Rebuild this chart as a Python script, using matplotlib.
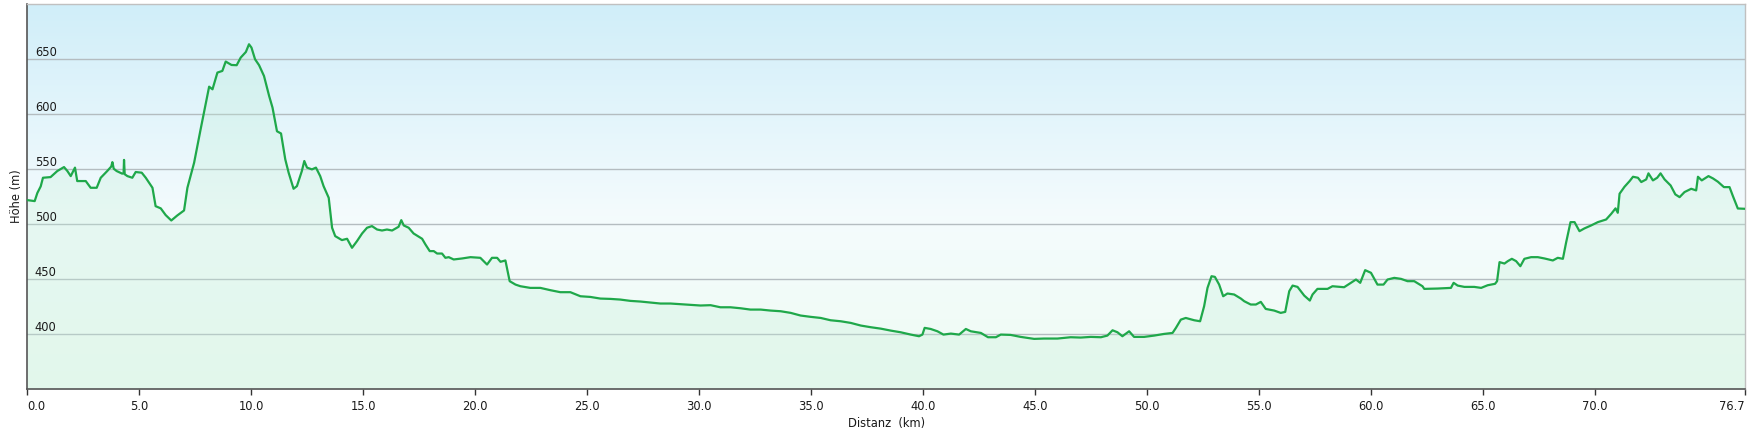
import numpy as np
import matplotlib
matplotlib.use('Agg')
import matplotlib.pyplot as plt
from matplotlib.colors import LinearSegmentedColormap

distanz = [0.00, 0.33, 0.45, 0.60, 0.70, 1.04, 1.34, 1.64, 1.79, 1.94, 2.13, 2.23, 2.61, 2.83, 3.10, 3.28,
           3.57, 3.75, 3.80, 3.86, 3.99, 4.24, 4.30, 4.32, 4.35, 4.47, 4.69, 4.84, 5.11, 5.29, 5.59, 5.73,
           5.96, 6.18, 6.43, 6.70, 7.00, 7.15, 7.45, 7.74, 8.12, 8.27, 8.49, 8.71, 8.86, 9.12, 9.35, 9.53,
           9.76, 9.90, 10.01, 10.17, 10.35, 10.57, 10.80, 10.95, 11.15, 11.33, 11.52, 11.67, 11.89, 12.04,
           12.26, 12.37, 12.49, 12.71, 12.89, 13.08, 13.23, 13.46, 13.61, 13.75, 14.05, 14.28, 14.50, 14.72,
           14.95, 15.17, 15.39, 15.62, 15.84, 16.06, 16.29, 16.58, 16.70, 16.81, 17.03, 17.25, 17.63, 17.78,
           17.97, 18.15, 18.30, 18.52, 18.67, 18.82, 19.04, 19.41, 19.79, 20.23, 20.53, 20.75, 20.98, 21.13,
           21.35, 21.54, 21.80, 22.02, 22.46, 22.91, 23.36, 23.80, 24.25, 24.70, 25.14, 25.59, 26.04, 26.48,
           26.93, 27.38, 27.83, 28.27, 28.72, 29.17, 29.61, 30.06, 30.51, 30.95, 31.40, 31.85, 32.29, 32.75,
           33.19, 33.64, 34.09, 34.53, 34.98, 35.43, 35.87, 36.32, 36.77, 37.22, 37.66, 38.11, 38.56, 39.00,
           39.45, 39.82, 39.97, 40.07, 40.34, 40.64, 40.91, 41.24, 41.61, 41.91, 42.13, 42.58, 42.90, 43.25,
           43.47, 43.91, 44.36, 44.96, 45.40, 46.00, 46.59, 47.04, 47.49, 47.94, 48.23, 48.46, 48.68, 48.90,
           49.20, 49.42, 49.87, 50.32, 50.76, 51.14, 51.29, 51.51, 51.73, 52.11, 52.37, 52.55, 52.70, 52.88,
           53.03, 53.22, 53.40, 53.59, 53.89, 54.19, 54.34, 54.63, 54.86, 55.08, 55.30, 55.68, 55.97, 56.17,
           56.35, 56.50, 56.72, 57.02, 57.27, 57.39, 57.61, 58.06, 58.28, 58.80, 59.10, 59.33, 59.52, 59.74,
           60.00, 60.29, 60.56, 60.74, 61.04, 61.34, 61.63, 61.93, 62.30, 62.38, 62.97, 63.57, 63.69, 63.87,
           64.17, 64.61, 64.92, 65.21, 65.54, 65.63, 65.74, 65.96, 66.11, 66.29, 66.48, 66.67, 66.85, 67.15,
           67.45, 67.75, 68.12, 68.34, 68.57, 68.71, 68.91, 69.09, 69.31, 69.53, 69.83, 70.13, 70.50, 70.73,
           70.92, 71.02, 71.10, 71.32, 71.55, 71.70, 71.92, 72.07, 72.29, 72.39, 72.59, 72.78, 72.93, 73.11,
           73.38, 73.59, 73.78, 74.00, 74.30, 74.52, 74.60, 74.77, 75.07, 75.27, 75.49, 75.76, 76.01, 76.16,
           76.38, 76.70]
hoehe = [521.5, 520.6, 528.0, 534.0, 541.8, 542.4, 547.9, 551.5, 547.9, 543.3, 551.0, 538.8, 538.8, 532.7, 532.7, 541.8,
         547.9, 552.0, 556.0, 550.0, 547.9, 545.5, 546.0, 558.0, 545.0, 543.3, 541.8, 547.0, 546.4, 541.8, 532.7, 516.0,
         514.0, 507.9, 503.0, 507.6, 512.1, 532.7, 555.5, 585.8, 624.5, 622.1, 637.3, 638.8, 647.3, 644.2, 644.0, 650.9,
         656.0, 663.0, 660.0, 649.4, 644.0, 634.2, 616.0, 605.5, 584.0, 582.0, 558.5, 546.4, 531.8, 534.2,
         547.9, 557.0, 551.0, 549.4, 551.0, 543.3, 534.2, 523.6, 496.4, 488.8, 485.2, 486.4, 478.2, 484.2,
         491.2, 496.4, 497.9, 494.8, 493.9, 494.8, 493.9, 497.3, 503.3, 498.5, 496.4, 491.2, 486.4, 481.2,
         475.2, 475.2, 473.0, 473.0, 469.1, 469.7, 467.6, 468.5, 469.7, 469.1, 463.0, 469.1, 469.1, 465.5,
         466.7, 447.9, 444.8, 443.3, 441.8, 441.8, 439.7, 437.9, 437.9, 434.2, 433.6, 432.1, 431.8, 431.2,
         430.0, 429.4, 428.5, 427.6, 427.6, 427.0, 426.4, 425.8, 426.1, 424.2, 424.2, 423.3, 422.1, 422.1,
         421.2, 420.6, 419.1, 416.7, 415.5, 414.5, 412.4, 411.5, 410.0, 407.6, 406.1, 404.8, 403.0, 401.5,
         399.4, 397.9, 399.4, 405.5, 404.5, 402.4, 399.4, 400.3, 399.4, 404.5, 402.4, 400.9, 397.0, 397.0,
         399.4, 399.1, 397.3, 395.5, 395.8, 395.8, 397.0, 396.7, 397.3, 397.0, 398.5, 403.3, 401.5, 397.9,
         402.4, 397.3, 397.3, 398.5, 400.0, 400.9, 405.5, 413.0, 414.5, 412.4, 411.5, 425.2, 441.8, 452.4,
         451.8, 444.8, 434.2, 436.7, 435.8, 432.1, 429.7, 426.7, 426.7, 429.1, 422.7, 421.2, 419.1, 420.0,
         438.8, 443.9, 442.7, 434.8, 430.3, 435.8, 440.9, 440.9, 443.3, 442.4, 446.4, 449.4, 446.4, 457.9,
         455.5, 444.8, 444.8, 449.4, 450.9, 450.0, 447.9, 447.9, 443.3, 440.9, 441.2, 441.8, 446.4, 443.9,
         442.7, 442.7, 441.8, 444.2, 445.5, 447.9, 465.2, 463.9, 466.1, 468.2, 466.1, 461.5, 468.2, 469.7,
         469.7, 468.5, 466.7, 469.1, 468.2, 482.7, 501.5, 501.5, 493.3, 495.8, 498.5, 501.5, 503.9, 509.1,
         514.0, 510.0, 527.3, 533.6, 538.8, 542.7, 541.8, 537.9, 540.3, 545.8, 539.4, 541.8, 545.8, 540.3,
         534.8, 526.7, 524.2, 528.8, 531.8, 530.3, 542.7, 539.4, 543.3, 541.2, 538.2, 533.3, 533.3, 525.2,
         513.9, 513.6]

x_ticks = [0, 5, 10, 15, 20, 25, 30, 35, 40, 45, 50, 55, 60, 65, 70, 76.7]
x_ticklabels = ['0.0', '5.0', '10.0', '15.0', '20.0', '25.0', '30.0', '35.0', '40.0', '45.0', '50.0',
                '55.0', '60.0', '65.0', '70.0', '76.7']
y_ticks = [400, 450, 500, 550, 600, 650]

x_max = 76.7
y_min, y_max = 350, 700

fig = plt.figure(figsize=(17.49, 4.34), dpi=100)
ax = fig.add_axes([0.0156, 0.1037, 0.9821, 0.8882])

# Hintergrund: hellblau oben, fast weiss in der Mitte, hellgruen unten
bg = LinearSegmentedColormap.from_list('bg', [(0.0, '#effcf3'), (0.45, '#f4fbfd'), (1.0, '#d0eef9')])
grad = np.linspace(0, 1, 256).reshape(-1, 1)
ax.imshow(grad, cmap=bg, origin='lower', aspect='auto', extent=[0, x_max, y_min, y_max], zorder=0)

for v in y_ticks:
    ax.axhline(v, color='#b4bcc0', lw=1.0, zorder=1)
    ax.annotate(str(v), xy=(0, v), xytext=(5.5, 1.8), textcoords='offset points',
                fontsize=8.3, color='#1a1a1a', ha='left', va='baseline', zorder=5)

ax.fill_between(distanz, hoehe, y_min, color='#c2f0d8', alpha=0.28, lw=0, zorder=2)
ax.plot(distanz, hoehe, color='#1fa84a', lw=1.6, zorder=3, solid_joinstyle='round')

ax.set_xlim(0, x_max)
ax.set_ylim(y_min, y_max)
ax.set_yticks([])
ax.set_xticks(x_ticks)
ax.set_xticklabels(x_ticklabels, fontsize=8.3, color='#1a1a1a')
ax.tick_params(axis='x', direction='out', length=4.3, width=1.0, color='#333333', pad=3.5)
labels = ax.get_xticklabels()
labels[0].set_ha('left')
labels[-1].set_ha('right')

for side in ['left', 'bottom']:
    ax.spines[side].set_color('#555555')
    ax.spines[side].set_linewidth(1.2)
for side in ['top', 'right']:
    ax.spines[side].set_color('#c0c0c0')
    ax.spines[side].set_linewidth(1.0)

ax.set_xlabel('Distanz  (km)', fontsize=8.3, color='#1a1a1a', labelpad=3)
ax.set_ylabel('Höhe (m)', fontsize=8.3, color='#1a1a1a', labelpad=3)

fig.savefig('out.png', dpi=100)
